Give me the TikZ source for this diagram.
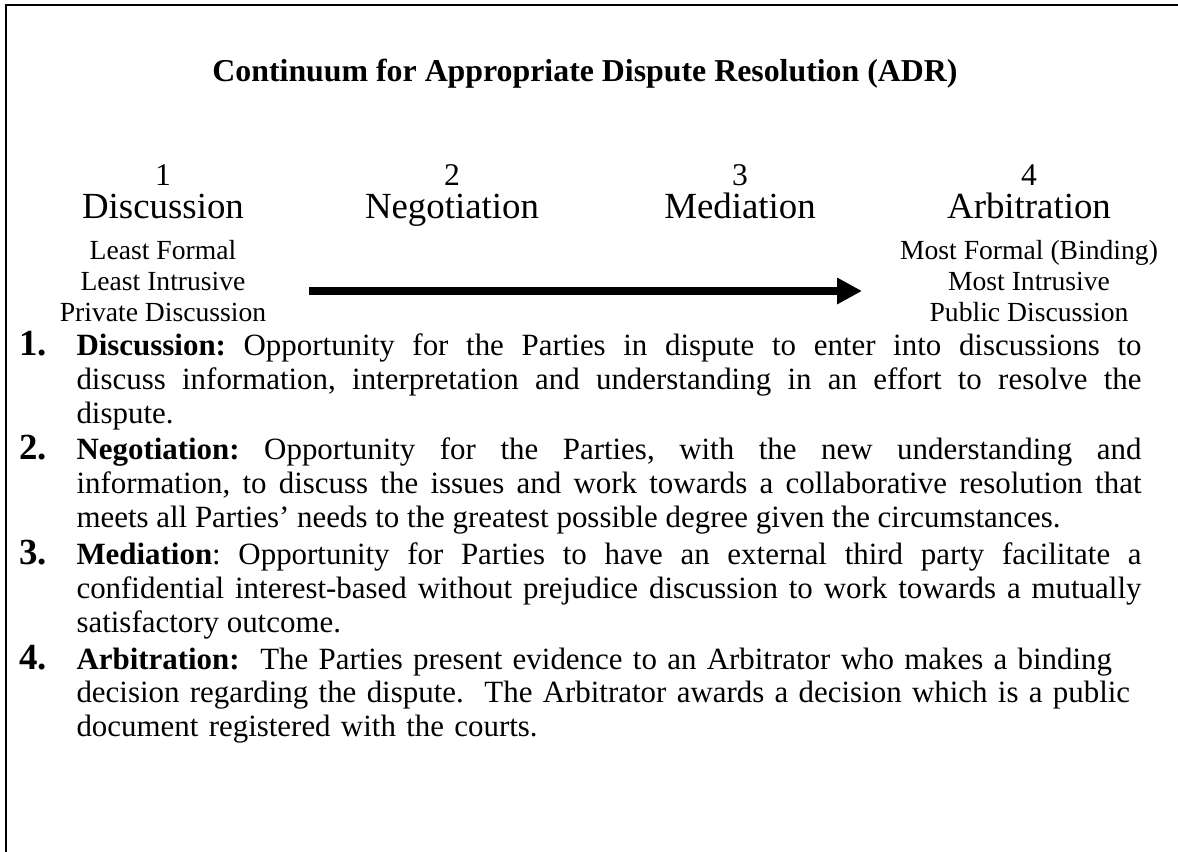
\documentclass[tikz,border=0pt]{standalone}
\usepackage{fontspec}
\setmainfont{Liberation Serif}
\usetikzlibrary{arrows.meta}
\hyphenpenalty=10000
\exhyphenpenalty=10000
\tolerance=9999
\frenchspacing

\begin{document}
\begin{tikzpicture}[x=0.38pt, y=-0.38pt,
    stagenum/.style={anchor=base, inner sep=0pt, font=\fontsize{12}{14}\selectfont},
    stagename/.style={anchor=base, inner sep=0pt, font=\fontsize{14}{16}\selectfont},
    stagenote/.style={anchor=base, inner sep=0pt, font=\fontsize{10.5}{12}\selectfont},
    itemnum/.style={anchor=base west, inner sep=0pt, font=\fontsize{14}{16}\bfseries\selectfont},
    itemtext/.style={anchor=base west, inner sep=0pt, text width=404.7pt, align=justify,
      font=\fontsize{11.75}{12.8}\selectfont}]
    \useasboundingbox (0,0) rectangle (1178,852);

    % Frame
    \draw[line width=0.8pt] (6,852) -- (6,5) -- (1178,5);

    % Title
    \node[anchor=base, inner sep=0pt, font=\fontsize{12.1}{14}\bfseries\selectfont] (title) at (585,82)
      {Continuum for Appropriate Dispute Resolution (ADR)};

    % Columns
    \pgfmathsetmacro{\xa}{163}
    \pgfmathsetmacro{\xb}{452}
    \pgfmathsetmacro{\xc}{740}
    \pgfmathsetmacro{\xd}{1029}

    \node[stagenum] (num1) at (\xa,186) {1};
    \node[stagenum] (num2) at (\xb,186) {2};
    \node[stagenum] (num3) at (\xc,186) {3};
    \node[stagenum] (num4) at (\xd,186) {4};

    \node[stagename] (disc) at (\xa,219) {Discussion};
    \node[stagename] (nego) at (\xb,219) {Negotiation};
    \node[stagename] (medi) at (\xc,219) {Mediation};
    \node[stagename] (arbi) at (\xd,219) {Arbitration};

    \node[stagenote] (least1) at (\xa,260) {Least Formal};
    \node[stagenote] (least2) at (\xa,291) {Least Intrusive};
    \node[stagenote] (least3) at (\xa,322) {Private Discussion};
    \node[stagenote] (most1) at (\xd,260) {Most Formal (Binding)};
    \node[stagenote] (most2) at (\xd,291) {Most Intrusive};
    \node[stagenote] (most3) at (\xd,322) {Public Discussion};

    % Continuum arrow
    \coordinate (arrstart) at (309,291);
    \coordinate (arrend) at (862,291);
    \draw[line width=2.9pt, -{Triangle[width=9.5pt, length=9.5pt]}] (arrstart) -- (arrend);

    % Descriptions
    \node[itemnum] (lbl1) at (19,356) {1.};
    \node[itemtext] (txt1) at (76,356) {\textbf{Discussion:} Opportunity for the Parties in dispute to enter into discussions to\linebreak
      discuss information, interpretation and understanding in an effort to resolve the\linebreak
      dispute.};

    \node[itemnum] (lbl2) at (19,460) {2.};
    \node[itemtext] (txt2) at (76,460) {\textbf{Negotiation:} Opportunity for the Parties, with the new understanding and\linebreak
      information, to discuss the issues and work towards a collaborative resolution that\linebreak
      meets all Parties’ needs to the greatest possible degree given the circumstances.};

    \node[itemnum] (lbl3) at (19,565) {3.};
    \node[itemtext] (txt3) at (76,565) {\textbf{Mediation}: Opportunity for Parties to have an external third party facilitate a\linebreak
      confidential interest-based without prejudice discussion to work towards a mutually\linebreak
      satisfactory outcome.};

    \node[itemnum] (lbl4) at (19,669) {4.};
    \node[itemtext, align=left] (txt4) at (76,669) {\textbf{Arbitration:}\ \ The Parties present evidence to an Arbitrator who makes a binding\\
      decision regarding the dispute.\ \ The Arbitrator awards a decision which is a public\\
      document registered with the courts.};
\end{tikzpicture}
\end{document}
